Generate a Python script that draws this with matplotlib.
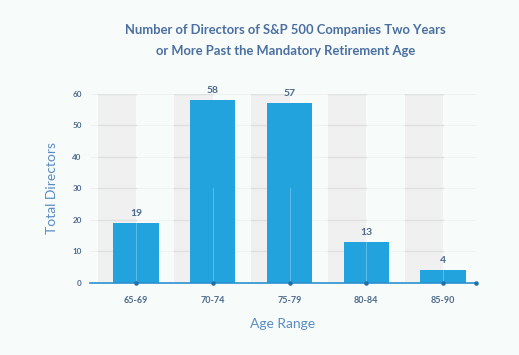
import numpy as np
import matplotlib.pyplot as plt

# Data
age_ranges = ['65-69', '70-74', '75-79', '80-84', '85-90']
directors = [19, 58, 57, 13, 4]
y_ticks = [0, 10, 20, 30, 40, 50, 60]

bg = '#f7fbfa'
bar_color = '#22a3dd'
text_color = '#4d6a8c'
title_color = '#4a6fa0'
label_color = '#5a8cc4'

fig = plt.figure(figsize=(5.19, 3.55), dpi=100, facecolor=bg)
ax = fig.add_axes([0.1734, 0.2028, 0.7437, 0.5332], facecolor=bg)

x = np.arange(len(age_ranges))

# shaded bands (left half of each category) with darker grid inside
for xi in x:
    ax.axvspan(xi - 0.5, xi, color='#f0f0f0', zorder=0, lw=0)
    for yt in y_ticks[1:]:
        ax.plot([xi - 0.5, xi], [yt, yt], color='#e0e0e0', lw=1.0, zorder=0.5)
for yt in y_ticks[1:]:
    ax.axhline(yt, color='#eef1f1', lw=0.6, zorder=0.2)

ax.bar(x, directors, width=0.59, color=bar_color, zorder=2)
# faint tick lines showing through the bars
for xi, v in zip(x, directors):
    ax.plot([xi, xi], [0, min(v, 30)], color='#5cbde8', lw=0.7, zorder=3)

for xi, v in zip(x, directors):
    ax.text(xi, v + 1.6, str(v), ha='center', va='bottom', fontsize=7.5,
            color=text_color, family='Lato', fontweight='bold')

ax.set_xlim(-0.6, 4.43)
ax.set_ylim(0, 60)
ax.set_yticks(y_ticks)
ax.set_yticklabels([str(t) for t in y_ticks], fontsize=5.8, color=text_color,
                   family='Lato', fontweight='bold')
ax.set_xticks(x)
ax.set_xticklabels(age_ranges, fontsize=6.5, color=text_color, family='Lato',
                   fontweight='bold')
ax.tick_params(axis='y', length=0, pad=6)
ax.tick_params(axis='x', length=0, pad=9)

for s in ['top', 'right', 'left']:
    ax.spines[s].set_visible(False)
ax.spines['bottom'].set_color('#2a90cf')
ax.spines['bottom'].set_linewidth(1.2)
ax.spines['bottom'].set_zorder(4)

# dots on the axis line
ax.scatter(list(x) + [4.43], [0] * (len(x) + 1), s=5, color='#1f6fa8',
           zorder=5, clip_on=False)

ax.set_ylabel('Total Directors', fontsize=10, color=label_color, family='Lato',
              labelpad=10)
ax.set_xlabel('Age Range', fontsize=10, color=label_color, family='Lato',
              labelpad=10)

fig.text(0.55, 0.915, 'Number of Directors of S&P 500 Companies Two Years',
         ha='center', va='center', fontsize=9.4, color=title_color,
         family='Lato', fontweight='bold')
fig.text(0.55, 0.857, 'or More Past the Mandatory Retirement Age',
         ha='center', va='center', fontsize=9.4, color=title_color,
         family='Lato', fontweight='bold')

fig.savefig('out.png', dpi=100, facecolor=bg)
